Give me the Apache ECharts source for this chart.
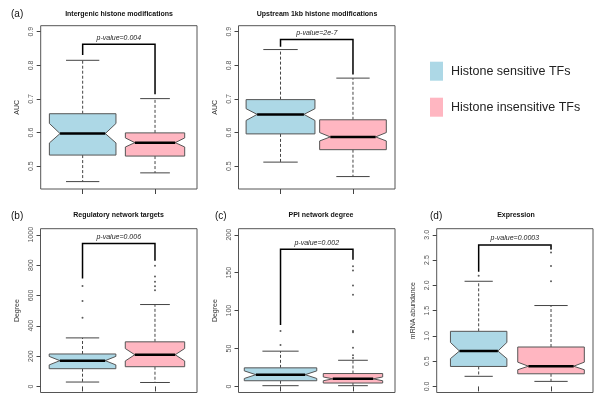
<!DOCTYPE html>
<html>
<head>
<meta charset="utf-8">
<script src="https://cdn.jsdelivr.net/npm/echarts@6.0.0/dist/echarts.min.js"></script>
<style>
  html, body { margin: 0; padding: 0; background: #fff; }
  #chart { width: 600px; height: 400px; }
</style>
</head>
<body>
<div id="chart"></div>
<script>
const groups = ['Histone sensitive TFs', 'Histone insensitive TFs']

// box stats per group: [lower whisker, Q1, median, Q3, upper whisker, notch low, notch high]
const intergenicStats = [
  [0.454, 0.533, 0.597, 0.656, 0.815, 0.569, 0.627],
  [0.480, 0.530, 0.570, 0.599, 0.701, 0.557, 0.584]
]
const upstreamStats = [
  [0.512, 0.596, 0.654, 0.698, 0.847, 0.636, 0.671],
  [0.469, 0.549, 0.587, 0.638, 0.762, 0.575, 0.600]
]
const regulatoryStats = [
  [29, 117, 170, 214, 320, 142, 198],
  [26, 130, 209, 294, 540, 168, 250]
]
const ppiStats = [
  [1, 7.5, 15.5, 24.5, 46.5, 10.5, 20.5],
  [1, 4.5, 10, 17, 34.5, 7.5, 12.5]
]
const expressionStats = [
  [0.2, 0.395, 0.70, 1.09, 2.08, 0.55, 0.87],
  [0.1, 0.25, 0.40, 0.78, 1.60, 0.33, 0.48]
]

// outlier points per group
const intergenicOutliers = [[], []]
const upstreamOutliers = [[], []]
const regulatoryOutliers = [[453, 563, 662], [635, 660, 690, 725, 795]]
const ppiOutliers = [[54.5, 73], [37.6, 41, 51, 71.4, 73, 121, 133, 153, 158.6]]
const expressionOutliers = [[2.19], [2.08, 2.38, 2.65, 2.72, 2.78]]

// significance brackets: [left leg end, bar height, right leg end]
const intergenicBracket = [0.831, 0.863, 0.714]
const upstreamBracket = [0.855, 0.877, 0.773]
const regulatoryBracket = [711, 943, 828]
const ppiBracket = [81, 181, 167]
const expressionBracket = [2.27, 2.80, 2.72]

const pValues = ['p-value=0.004', 'p-value=2e-7', 'p-value=0.006', 'p-value=0.002', 'p-value=0.0003']

// y tick labels
const aucTicks = [0.5, 0.6, 0.7, 0.8, 0.9]
const degreeTicks = [0, 200, 400, 600, 800, 1000]
const ppiTicks = [0, 50, 100, 150, 200]
const mrnaTicks = [0, 0.5, 1, 1.5, 2, 2.5, 3]

const panels = [
  { tag: '(a)', title: 'Intergenic histone modifications', yName: 'AUC', stats: intergenicStats, outliers: intergenicOutliers, bracket: intergenicBracket, ticks: aucTicks, digits: 1 },
  { tag: '', title: 'Upstream 1kb histone modifications', yName: 'AUC', stats: upstreamStats, outliers: upstreamOutliers, bracket: upstreamBracket, ticks: aucTicks, digits: 1 },
  { tag: '(b)', title: 'Regulatory network targets', yName: 'Degree', stats: regulatoryStats, outliers: regulatoryOutliers, bracket: regulatoryBracket, ticks: degreeTicks, digits: 0 },
  { tag: '(c)', title: 'PPI network degree', yName: 'Degree', stats: ppiStats, outliers: ppiOutliers, bracket: ppiBracket, ticks: ppiTicks, digits: 0 },
  { tag: '(d)', title: 'Expression', yName: 'mRNA abundance', stats: expressionStats, outliers: expressionOutliers, bracket: expressionBracket, ticks: mrnaTicks, digits: 1 }
]

// layout: plot frame in px, y range (R style 4% padding), box widths in x units
const layout = [
  { left: 40.7, top: 25.7, width: 156.3, height: 163.3, yMin: 0.432, yMax: 0.918, boxW: [0.92, 0.82], tagX: 11, titleX: 119 },
  { left: 238.5, top: 25.7, width: 156.5, height: 163.3, yMin: 0.432, yMax: 0.918, boxW: [0.95, 0.92], tagX: 0, titleX: 317 },
  { left: 40.5, top: 228.7, width: 156.5, height: 163.8, yMin: -40, yMax: 1040, boxW: [0.92, 0.82], tagX: 11, titleX: 118.5 },
  { left: 238.5, top: 228.7, width: 156.5, height: 163.8, yMin: -8, yMax: 208, boxW: [1.0, 0.82], tagX: 215, titleX: 321 },
  { left: 436.7, top: 228.7, width: 156.3, height: 163.8, yMin: -0.12, yMax: 3.12, boxW: [0.78, 0.92], tagX: 430, titleX: 516 }
]

const fills = ['#ADD8E6', '#FFB6C1']
const fontFamily = '"Liberation Sans", Arial, sans-serif'

function boxRenderer(widthUnits, fill) {
  return function (params, api) {
    const x = api.value(0)
    const pt = (v) => api.coord([x, v])
    const cx = pt(api.value(3))[0]
    const yLow = pt(api.value(1))[1]
    const yQ1 = pt(api.value(2))[1]
    const yMed = pt(api.value(3))[1]
    const yQ3 = pt(api.value(4))[1]
    const yHigh = pt(api.value(5))[1]
    const yNLo = pt(api.value(6))[1]
    const yNHi = pt(api.value(7))[1]
    const half = api.size([widthUnits, 0])[0] / 2
    const nh = half * 0.68
    const cap = half / 2
    const dashed = { stroke: '#444', lineWidth: 1, lineDash: [3, 2] }
    const solid = { stroke: '#444', lineWidth: 1 }
    return {
      type: 'group',
      children: [
        { type: 'line', shape: { x1: cx, y1: yQ3, x2: cx, y2: yHigh }, style: dashed },
        { type: 'line', shape: { x1: cx, y1: yQ1, x2: cx, y2: yLow }, style: dashed },
        { type: 'line', shape: { x1: cx - cap, y1: yHigh, x2: cx + cap, y2: yHigh }, style: solid },
        { type: 'line', shape: { x1: cx - cap, y1: yLow, x2: cx + cap, y2: yLow }, style: solid },
        {
          type: 'polygon',
          shape: {
            points: [
              [cx - half, yQ3], [cx + half, yQ3], [cx + half, yNHi], [cx + nh, yMed],
              [cx + half, yNLo], [cx + half, yQ1], [cx - half, yQ1], [cx - half, yNLo],
              [cx - nh, yMed], [cx - half, yNHi]
            ]
          },
          style: { fill: fill, stroke: '#555', lineWidth: 1 }
        },
        { type: 'line', shape: { x1: cx - nh, y1: yMed, x2: cx + nh, y2: yMed }, style: { stroke: '#000', lineWidth: 2.5 } }
      ]
    }
  }
}

function bracketRenderer(label) {
  return function (params, api) {
    const [x1, yL] = api.coord([api.value(0), api.value(1)])
    const yTop = api.coord([api.value(0), api.value(2)])[1]
    const [x2, yR] = api.coord([groups.length, api.value(3)])
    return {
      type: 'group',
      children: [
        {
          type: 'polyline',
          shape: { points: [[x1, yL], [x1, yTop], [x2, yTop], [x2, yR]] },
          style: { stroke: '#000', lineWidth: 1.5, fill: null }
        },
        {
          type: 'text',
          style: {
            text: label, x: (x1 + x2) / 2, y: yTop - 3,
            align: 'center', verticalAlign: 'bottom',
            font: 'italic 7px ' + fontFamily, fill: '#222'
          }
        }
      ]
    }
  }
}

const grid = [], xAxis = [], yAxis = [], series = [], title = []

panels.forEach((p, i) => {
  const l = layout[i]
  grid.push({ left: l.left, top: l.top, width: l.width, height: l.height, show: true, borderColor: '#555', borderWidth: 1, backgroundColor: 'transparent' })
  xAxis.push({
    type: 'value', gridIndex: i, min: 0.42, max: 2.58,
    axisLine: { show: false }, splitLine: { show: false },
    axisTick: { show: true, length: 5, inside: false, customValues: groups.map((g, k) => k + 1), lineStyle: { color: '#444' } },
    axisLabel: { show: false }
  })
  yAxis.push({
    type: 'value', gridIndex: i, min: l.yMin, max: l.yMax,
    name: p.yName, nameLocation: 'middle', nameGap: 20, nameRotate: 90,
    nameTextStyle: { fontSize: 7, color: '#333' },
    axisLine: { show: false }, splitLine: { show: false },
    axisTick: { show: true, length: 4, customValues: p.ticks, lineStyle: { color: '#444' } },
    axisLabel: { customValues: p.ticks, rotate: 90, fontSize: 7, color: '#555', margin: 6, formatter: (v) => Number(v).toFixed(p.digits) }
  })
  p.stats.forEach((s, k) => {
    series.push({
      type: 'custom', name: groups[k], xAxisIndex: i, yAxisIndex: i,
      itemStyle: { color: fills[k] },
      renderItem: boxRenderer(l.boxW[k], fills[k]),
      encode: { x: 0, y: [1, 2, 3, 4, 5] },
      data: [[k + 1].concat(s)]
    })
    if (p.outliers[k].length) {
      series.push({
        type: 'scatter', name: 'outliers', xAxisIndex: i, yAxisIndex: i,
        symbolSize: 2, itemStyle: { color: '#333' },
        data: p.outliers[k].map((v) => [k + 1, v])
      })
    }
  })
  series.push({
    type: 'custom', name: 'bracket', xAxisIndex: i, yAxisIndex: i,
    renderItem: bracketRenderer(pValues[i]),
    encode: { x: 0, y: [1, 2, 3] },
    data: [[1].concat(p.bracket)]
  })
  title.push({
    text: p.title, left: l.titleX, top: i < 2 ? 11 : 212, textAlign: 'center', padding: 0,
    textStyle: { fontSize: 7, fontWeight: 'bold', color: '#111', fontFamily }
  })
  if (p.tag) {
    title.push({
      text: p.tag, left: l.tagX, top: i < 2 ? 9.5 : 211, padding: 0,
      textStyle: { fontSize: 10, fontWeight: 'normal', color: '#111', fontFamily }
    })
  }
})

const chart = echarts.init(document.getElementById('chart'))
chart.setOption({
  animation: false,
  textStyle: { fontFamily },
  title,
  legend: {
    data: groups, orient: 'vertical', left: 430, top: 61.7, padding: 0,
    icon: 'rect', itemWidth: 13, itemHeight: 19, itemGap: 17,
    textStyle: { fontSize: 12.5, color: '#222', padding: [0, 0, 0, 3] }
  },
  grid,
  xAxis,
  yAxis,
  series
})
</script>
</body>
</html>
